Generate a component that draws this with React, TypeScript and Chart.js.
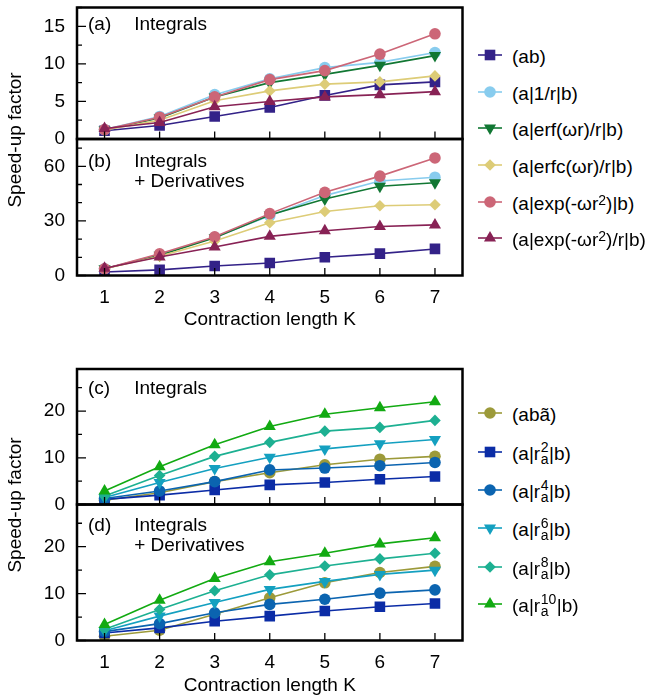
import React, { useEffect, useRef } from 'react';
import { Chart, registerables } from 'chart.js';

Chart.register(...registerables);

const FONT = "'Liberation Sans', Arial, Helvetica, sans-serif";

// ---------- data ----------
const K = [1, 2, 3, 4, 5, 6, 7];
const X_TITLE = 'Contraction length K';
const Y_TITLE = 'Speed-up factor';

// panel (a): Integrals
const aAb = [1.1, 1.8, 3.0, 4.2, 5.8, 7.2, 7.6];
const aInvR = [1.25, 3.0, 5.9, 8.0, 9.5, 10.2, 11.5];
const aErf = [1.2, 2.8, 5.6, 7.5, 8.6, 9.8, 11.1];
const aErfc = [1.2, 2.5, 5.1, 6.4, 7.3, 7.6, 8.4];
const aExp = [1.25, 2.9, 5.6, 7.9, 9.1, 11.3, 14.0];
const aExpR = [1.4, 2.2, 4.3, 5.0, 5.6, 5.9, 6.3];

// panel (b): Integrals + Derivatives
const bAb = [1.9, 3.1, 5.2, 6.9, 10.0, 12.0, 14.6];
const bInvR = [3.7, 11.5, 21.0, 32.8, 43.9, 51.9, 54.0];
const bErf = [3.7, 11.1, 20.7, 33.3, 42.0, 49.0, 51.0];
const bErfc = [3.7, 10.6, 18.9, 29.0, 35.2, 38.3, 38.9];
const bExp = [3.7, 11.9, 21.3, 34.0, 45.7, 54.6, 64.6];
const bExpR = [4.0, 10.2, 15.7, 21.5, 24.6, 26.9, 27.8];

// panel (c): Integrals
const cAbt = [0.9, 2.5, 4.9, 6.8, 8.5, 9.7, 10.3];
const cR2 = [1.1, 2.0, 3.1, 4.2, 4.7, 5.4, 6.0];
const cR4 = [1.3, 2.9, 4.9, 7.4, 7.8, 8.3, 9.0];
const cR6 = [1.5, 4.7, 7.7, 10.1, 11.9, 13.0, 13.9];
const cR8 = [1.8, 6.2, 10.3, 13.3, 15.7, 16.5, 18.0];
const cR10 = [2.9, 8.1, 12.8, 16.7, 19.3, 20.7, 22.0];

// panel (d): Integrals + Derivatives
const dAbt = [0.9, 2.2, 5.6, 9.1, 12.3, 14.5, 15.8];
const dR2 = [1.6, 2.7, 4.1, 5.2, 6.3, 7.2, 7.9];
const dR4 = [1.9, 3.6, 5.9, 7.7, 8.8, 10.1, 10.8];
const dR6 = [2.1, 5.2, 8.1, 10.9, 12.6, 14.1, 15.0];
const dR8 = [2.4, 6.6, 10.6, 14.0, 15.9, 17.4, 18.6];
const dR10 = [3.4, 8.6, 13.2, 16.8, 18.6, 20.6, 21.9];

// y-axis ticks per panel: [max, major step, minor step]
const aTicks = [17.5, 5, 2.5];
const bTicks = [75, 30, 10];
const cTicks = [29, 10, 5];
const dTicks = [29, 10, 5];

// labels
const topLabels = ['(ab)', '(a|1/r|b)', '(a|erf(ωr)/r|b)', '(a|erfc(ωr)/r|b)', '(a|exp(-ωr²)|b)', '(a|exp(-ωr²)/r|b)'];
const botLabels = ['(abã)', '(a|r²ₐ|b)', '(a|r⁴ₐ|b)', '(a|r⁶ₐ|b)', '(a|r⁸ₐ|b)', '(a|r¹⁰ₐ|b)'];

// ---------- styles ----------
const topColors = ['#332288', '#88CCEE', '#117733', '#DDCC77', '#CC6677', '#882255'];
const botColors = ['#9c9a3a', '#0b2ca6', '#0b64b0', '#14a0c0', '#1db092', '#12aa12'];
const topShapes = ['square', 'circle', 'down', 'diamond', 'circle', 'up'];
const botShapes = ['circle', 'square', 'circle', 'down', 'diamond', 'up'];

const SHAPES: Record<string, { style: string; radius: number; rotation: number }> = {
  square: { style: 'rect', radius: 7.5, rotation: 0 },
  circle: { style: 'circle', radius: 5.8, rotation: 0 },
  up: { style: 'triangle', radius: 7, rotation: 0 },
  down: { style: 'triangle', radius: 7, rotation: 180 },
  diamond: { style: 'rectRot', radius: 5.8, rotation: 0 },
};

const framePlugin = {
  id: 'frame',
  afterDraw(chart: any, _args: any, opts: any) {
    const { ctx, chartArea } = chart;
    const { left, right, top, bottom } = chartArea;
    const xs = chart.scales.x;
    const ys = chart.scales.y;
    ctx.save();
    ctx.strokeStyle = '#000';
    ctx.lineWidth = 1.3;
    ctx.beginPath();
    const n = Math.floor(opts.yMax / opts.minor + 1e-9);
    for (let i = 0; i <= n; i++) {
      const v = i * opts.minor;
      const py = ys.getPixelForValue(v);
      const r = v / opts.major;
      const isMajor = Math.abs(r - Math.round(r)) < 1e-6;
      ctx.moveTo(left, py);
      ctx.lineTo(left + (isMajor ? 9 : 5), py);
    }
    for (const k of K) {
      const px = xs.getPixelForValue(k);
      ctx.moveTo(px, bottom);
      ctx.lineTo(px, bottom - 7.5);
    }
    ctx.stroke();
    ctx.lineWidth = 2.5;
    ctx.strokeRect(left, top, right - left, bottom - top);
    ctx.restore();
  },
};

type PanelProps = {
  values: number[][];
  labels: string[];
  colors: string[];
  shapes: string[];
  ticks: number[];
  top: number;
  height: number;
  padTop: number;
  padBottom: number;
  xAxisHeight: number; // 0 => hidden
};

function Panel(p: PanelProps) {
  const ref = useRef<HTMLCanvasElement>(null);
  useEffect(() => {
    const [yMax, major, minor] = p.ticks;
    const font = { family: FONT, size: 19 };
    const n = p.values.length;
    const chart = new Chart(ref.current as HTMLCanvasElement, {
      type: 'line',
      data: {
        datasets: p.values.map((vals, i) => {
          const sh = SHAPES[p.shapes[i]];
          return {
            label: p.labels[i],
            data: K.map((k, j) => ({ x: k, y: vals[j] })),
            borderColor: p.colors[i],
            backgroundColor: p.colors[i],
            pointBackgroundColor: p.colors[i],
            pointBorderColor: p.colors[i],
            pointBorderWidth: 0,
            pointStyle: sh.style as any,
            pointRadius: sh.radius,
            pointRotation: sh.rotation,
            borderWidth: 1.6,
            tension: 0,
            order: n - i,
          };
        }),
      },
      options: {
        animation: false,
        responsive: false,
        maintainAspectRatio: false,
        events: [],
        layout: { padding: { top: p.padTop, right: 5, bottom: p.padBottom, left: 0 } },
        plugins: {
          legend: { display: false },
          tooltip: { enabled: false },
          // @ts-ignore
          frame: { yMax, major, minor },
        },
        scales: {
          x: {
            type: 'linear',
            min: 0.5,
            max: 7.5,
            display: p.xAxisHeight > 0,
            grid: { display: false },
            border: { display: false },
            afterBuildTicks: (s: any) => {
              s.ticks = K.map((v) => ({ value: v }));
            },
            ticks: {
              autoSkip: false,
              maxRotation: 0,
              padding: 3,
              color: '#000',
              font,
            },
            title: { display: true, text: X_TITLE, color: '#000', font, padding: 0 },
            afterFit: (s: any) => {
              s.height = p.xAxisHeight;
              s.paddingLeft = 0;
              s.paddingRight = 0;
            },
          },
          y: {
            type: 'linear',
            min: 0,
            max: yMax,
            grid: { display: false },
            border: { display: false },
            ticks: { stepSize: major, includeBounds: false, padding: 4, color: '#000', font },
            afterFit: (s: any) => {
              s.width = 77;
              s.paddingTop = 0;
              s.paddingBottom = 0;
            },
          },
        },
      } as any,
      plugins: [framePlugin],
    });
    return () => chart.destroy();
  }, []);
  return (
    <canvas
      ref={ref}
      width={470}
      height={p.height}
      style={{ position: 'absolute', left: 0, top: p.top, width: 470, height: p.height }}
    />
  );
}

// ---------- HTML text helpers ----------
const txt: React.CSSProperties = {
  position: 'absolute',
  fontSize: 19,
  lineHeight: '20px',
  whiteSpace: 'nowrap',
  fontFamily: FONT,
  color: '#000',
};

function Scr({ sup, sub }: { sup: string; sub?: string }) {
  if (!sub) {
    return <span style={{ fontSize: 14, position: 'relative', top: -5 }}>{sup}</span>;
  }
  const w = Math.max(sup.length, sub.length) * 7.8 + 1;
  const s: React.CSSProperties = { position: 'absolute', left: 0.5, fontSize: 14, lineHeight: '14px' };
  return (
    <span style={{ display: 'inline-block', position: 'relative', width: w, height: 0 }}>
      <span style={{ ...s, top: -20 }}>{sup}</span>
      <span style={{ ...s, top: -8 }}>{sub}</span>
    </span>
  );
}

type LegItem = { pre: string; sup?: string; sub?: string; post?: string };
const topLeg: LegItem[] = [
  { pre: '(ab)' },
  { pre: '(a|1/r|b)' },
  { pre: '(a|erf(ωr)/r|b)' },
  { pre: '(a|erfc(ωr)/r|b)' },
  { pre: '(a|exp(-ωr', sup: '2', post: ')|b)' },
  { pre: '(a|exp(-ωr', sup: '2', post: ')/r|b)' },
];
const botLeg: LegItem[] = [
  { pre: '(abã)' },
  { pre: '(a|r', sup: '2', sub: 'a', post: '|b)' },
  { pre: '(a|r', sup: '4', sub: 'a', post: '|b)' },
  { pre: '(a|r', sup: '6', sub: 'a', post: '|b)' },
  { pre: '(a|r', sup: '8', sub: 'a', post: '|b)' },
  { pre: '(a|r', sup: '10', sub: 'a', post: '|b)' },
];

function Marker({ shape, color }: { shape: string; color: string }) {
  const cx = 15, cy = 10;
  let m: React.ReactNode = null;
  if (shape === 'circle') m = <circle cx={cx} cy={cy} r={5.8} fill={color} />;
  else if (shape === 'square') m = <rect x={cx - 5.3} y={cy - 5.3} width={10.6} height={10.6} fill={color} />;
  else if (shape === 'diamond')
    m = <polygon points={`${cx - 5.8},${cy} ${cx},${cy - 5.8} ${cx + 5.8},${cy} ${cx},${cy + 5.8}`} fill={color} />;
  else if (shape === 'up')
    m = <polygon points={`${cx},${cy - 7} ${cx + 6.06},${cy + 3.5} ${cx - 6.06},${cy + 3.5}`} fill={color} />;
  else if (shape === 'down')
    m = <polygon points={`${cx},${cy + 7} ${cx + 6.06},${cy - 3.5} ${cx - 6.06},${cy - 3.5}`} fill={color} />;
  return (
    <svg width={30} height={20} style={{ display: 'block' }}>
      <line x1={3} y1={cy} x2={27} y2={cy} stroke={color} strokeWidth={1.6} />
      {m}
    </svg>
  );
}

function Legend({ items, colors, shapes, rows }: { items: LegItem[]; colors: string[]; shapes: string[]; rows: number[] }) {
  return (
    <>
      {items.map((it, i) => (
        <React.Fragment key={i}>
          <div style={{ position: 'absolute', left: 475, top: rows[i] - 10 }}>
            <Marker shape={shapes[i]} color={colors[i]} />
          </div>
          <div style={{ ...txt, left: 512, top: rows[i] - 8.1 }}>
            {it.pre}
            {it.sup ? <Scr sup={it.sup} sub={it.sub} /> : null}
            {it.post ?? ''}
          </div>
        </React.Fragment>
      ))}
    </>
  );
}

function Annot({ tag, lines, baseline }: { tag: string; lines: string[]; baseline: number }) {
  const top = baseline - 16.6;
  return (
    <>
      <div style={{ ...txt, left: 88, top }}>{tag}</div>
      <div style={{ ...txt, left: 134.2, top }}>
        {lines.map((l, i) => (
          <div key={i}>{l}</div>
        ))}
      </div>
    </>
  );
}

function YTitle({ center }: { center: number }) {
  const W = 220;
  return (
    <div
      style={{
        ...txt,
        left: 15.4 - W / 2,
        top: center - 10,
        width: W,
        height: 20,
        textAlign: 'center',
        transform: 'rotate(-90deg)',
        transformOrigin: '50% 50%',
      }}
    >
      {Y_TITLE}
    </div>
  );
}

export default function App() {
  return (
    <div
      style={{
        position: 'absolute',
        left: 0,
        top: 0,
        width: 653,
        height: 698,
        background: '#fff',
        overflow: 'hidden',
        fontFamily: FONT,
      }}
    >
      <Panel
        values={[aAb, aInvR, aErf, aErfc, aExp, aExpR]}
        labels={topLabels}
        colors={topColors}
        shapes={topShapes}
        ticks={aTicks}
        top={0}
        height={152}
        padTop={3.5}
        padBottom={13}
        xAxisHeight={0}
      />
      <Panel
        values={[bAb, bInvR, bErf, bErfc, bExp, bExpR]}
        labels={topLabels}
        colors={topColors}
        shapes={topShapes}
        ticks={bTicks}
        top={130}
        height={201}
        padTop={9}
        padBottom={0}
        xAxisHeight={55.5}
      />
      <Panel
        values={[cAbt, cR2, cR4, cR6, cR8, cR10]}
        labels={botLabels}
        colors={botColors}
        shapes={botShapes}
        ticks={cTicks}
        top={360}
        height={158}
        padTop={9}
        padBottom={13.5}
        xAxisHeight={0}
      />
      <Panel
        values={[dAbt, dR2, dR4, dR6, dR8, dR10]}
        labels={botLabels}
        colors={botColors}
        shapes={botShapes}
        ticks={dTicks}
        top={495}
        height={202}
        padTop={9.5}
        padBottom={0}
        xAxisHeight={56.5}
      />

      <Annot tag="(a)" lines={['Integrals']} baseline={30.7} />
      <Annot tag="(b)" lines={['Integrals', '+ Derivatives']} baseline={167.3} />
      <Annot tag="(c)" lines={['Integrals']} baseline={395} />
      <Annot tag="(d)" lines={['Integrals', '+ Derivatives']} baseline={531.7} />

      <Legend items={topLeg} colors={topColors} shapes={topShapes} rows={[55, 91.7, 128.4, 165, 201.7, 238.3]} />
      <Legend items={botLeg} colors={botColors} shapes={botShapes} rows={[413.3, 451.7, 490, 528.3, 566.7, 604]} />

      <YTitle center={139.5} />
      <YTitle center={504.8} />
    </div>
  );
}
